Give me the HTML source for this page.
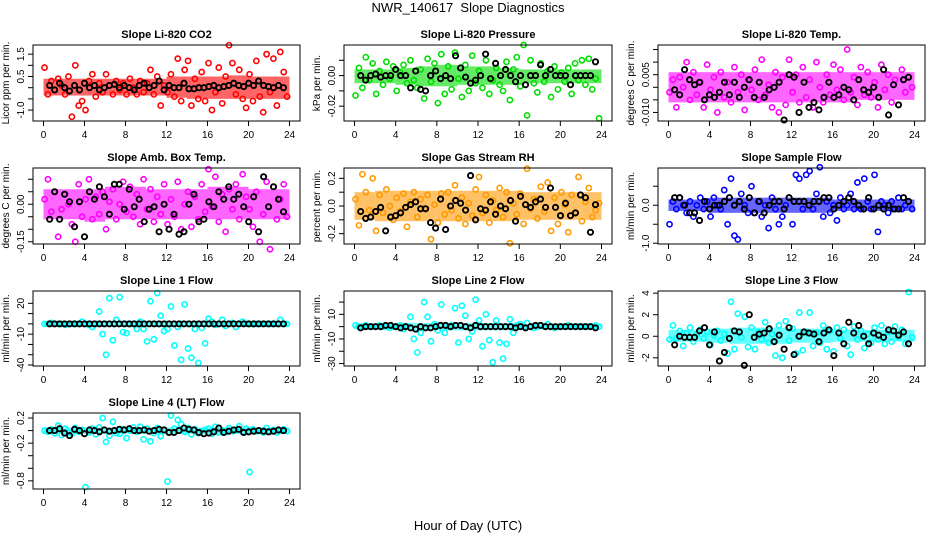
<!DOCTYPE html>
<html><head><meta charset="utf-8"><style>
html,body{margin:0;padding:0;background:#fff;}
svg{display:block;font-family:"Liberation Sans",Arial,sans-serif;}
</style></head><body>
<svg id="chart" width="936" height="540" viewBox="0 0 936 540" xmlns="http://www.w3.org/2000/svg">
<text x="468" y="12" text-anchor="middle" font-size="13" xml:space="preserve">NWR_140617  Slope Diagnostics</text>
<text x="468" y="530" text-anchor="middle" font-size="13">Hour of Day (UTC)</text>
<g id="panels"></g>
</svg>
<script>
// Data (scaled units per panel), x = hour of day spread evenly over 0..24
const p1Color=[9,-3,3,-1,4,1,-3,5,-13,10,-8,-6,-10,3,6,-4,2,-2,6,1,-3,3,-1,2,-3,4,0,-3,3,-2,2,8,-3,5,-8,1,-2,6,-4,13,-6,8,12,-8,4,-5,7,-6,11,-10,-2,9,-7,5,19,11,-3,8,-5,-9,6,-6,12,-4,-11,15,-2,13,-8,16,7,-4];
const p1Black=[1,-1,2,0,-1.5,1,-1,2,0,1,-1,0,1,1.5,0,1,0,-1,1,2,0,1,3,-1,1,0,0,2,-0.5,-0.5,0,0,0.5,1,0,0.5,1,2,1,0.5,2,1,3,1,0.5,0,1,0];
const p1BandLo=[-3.5,-3.5,-3.5,-3.5,-3.5,-3.5,-4.5,-5,-5,-5,-5,-5];
const p1BandHi=[4,4,4,4,4,4,5,5,5,5.5,5,5];
const p2Color=[-13,5,-8,12,-3,8,-12,3,-6,9,-2,6,-10,2,7,-5,10,-3,-8,4,-15,11,-4,8,-18,14,-12,6,-9,15,-2,-14,7,-10,13,-5,3,-8,10,-12,-3,5,-6,-10,9,-16,4,12,-7,20,-26,10,-5,-11,8,-4,3,-14,6,-9,2,-4,5,-12,8,-3,10,-6,11,-9,-2,-28];
const p2Black=[0,-3,0,1,-1,0,0,4,0,0,-8,3,-9,-10,0,3,-2,0,-2,13,5,-1,-5,-3,0,14,-2,8,0,4,0,-4,0,-6,0,0,7,0,4,0,0,0,-6,0,0,0,0,9];
const p2BandLo=[-5,-5,-6,-7,-7,-6,-6,-6,-5,-5,-5,-5];
const p2BandHi=[4,4,5,6,7,6,6,5,4,4,4,4];
const p3Color=[-2,3,-8,4,0,10,-5,6,-3,2,-8,9,-1,4,-10,6,-4,2,-6,8,-2,5,-9,3,-1,7,-5,11,-3,1,-8,6,-10,4,-7,11,-2,5,-6,8,-4,3,-8,10,0,-6,5,-3,9,-1,7,-5,15,-2,4,-7,8,-3,6,-4,2,-8,9,-1,5,-6,3,-7,7,-2,4,0];
const p3Black=[-1,-3,7,3,1,2,-5,-3,-4,-2,2,-3,2,-4,0,3,-4,2,-4,-1,0,2,-13,5,4,-10,2,-8,-6,-9,-4,2,-4,-3,0,-1,-5,3,-1,-2,0,-4,7,-11,1,-7,3,4];
const p3BandLo=[-6,-6,-6,-6,-6,-6,-6,-6,-6,-5,-5,-5];
const p3BandHi=[6,6,6,6,6,6,6,6,6,6,6,6];
const p4Color=[2,10,-3,5,-13,-2,4,0,-8,-15,8,-5,2,10,-6,3,-4,5,-10,1,6,-6,0,9,-3,7,-5,4,-8,10,-2,6,-7,3,-4,8,-8,2,-5,9,-10,0,5,-9,3,-6,8,-3,14,-1,11,-7,4,-11,6,-2,8,-6,12,3,-2,-9,5,-15,-4,9,-18,7,-6,2,8,-5];
const p4Black=[-6,5,-6,4,1,-9,1,-13,5,2,7,3,-4,8,8,-2,6,-1,2,-7,-2,-1,-11,0,-10,-4,-12,-11,0,4,-7,-6,1,-1,5,2,7,2,4,-1,-7,3,-11,11,-1,7,2,-3];
const p4BandLo=[-6,-6,-7,-6,-6,-6,-6,-6,-6,-6,-6,-6];
const p4BandHi=[6,6,6,7,7,6,6,6,7,7,6,6];
const p5Color=[5,-14,23,10,-3,20,-18,8,-5,12,0,-10,6,-4,9,-15,3,10,-8,5,-2,8,-24,1,-12,9,-6,10,-3,15,-9,6,-13,2,-7,12,21,-5,8,-12,4,-3,13,-8,10,-27,2,-6,9,-13,27,-2,5,-9,14,-4,17,-18,6,-13,10,1,-19,8,-5,21,-11,3,13,-8,-3,2];
const p5Black=[-4,-9,-8,-4,-1,-18,-8,-7,-5,-1,1,3,-2,-2,-12,-16,5,-17,0,4,2,-3,22,-10,-2,-3,3,-6,0,-2,4,-11,7,1,-1,3,5,-1,13,-1,-7,2,-7,-5,8,6,-19,1];
const p5BandLo=[-10,-11,-11,-11,-11,-11,-11,-11,-10,-10,-10,-10];
const p5BandHi=[10,11,11,11,11,11,11,11,10,10,10,10];
const p6Color=[-5,1,-1,2,0,-2,1,-3,0,2,-1,1,-3,2,0,-1,4,-5,7,-8,-9,3,0,-2,5,-2,1,-3,0,-6,2,-1,-5,-3,0,2,-5,8,7,-1,8,9,-1,3,10,-3,1,-2,0,-4,2,-1,0,3,-1,6,-1,7,1,-1,8,-7,1,0,-2,1,-1,2,-1,0,1,-1];
const p6Black=[2,2,0,-2,-2,-4,1,-1,0,0,1,2,0,1,-1,2,-2,1,-2,0,1,1,-1,2,1,1,1,0,1,1,2,2,-1,0,1,2,1,0,-1,2,-1,0,-1,0,-1,-1,2,1];
const p6BandLo=[-1.5,-1.5,-2,-2,-2,-2,-2,-2,-1.5,-1.5,-1.5,-1.5];
const p6BandHi=[1.5,1.5,2,2,2,2,2,2,1.5,1.5,1.5,1.5];
const p7Color=[0,0,1,0,0,0,-1,0,0,0,0,2,0,-1,-3,0,12,-10,-30,25,-16,4,26,-8,-9,0,0,-5,2,-5,-17,22,-15,30,8,-7,-5,17,-21,-3,-35,19,-24,-33,-5,-38,-4,-19,5,2,-1,0,4,-2,0,1,-3,0,2,0,0,0,0,0,0,0,0,0,0,4,0,0];
const p7Black=[0,0,0,0,0,0,0,0,0,0,0,0,0,0,0,0,0,0,0,0,0,0,0,0,0,0,0,0,0,0,0,0,0,0,0,0,0,0,0,0,0,0,0,0,0,0,0,0];
const p7BandLo=[-2,-2,-3,-3,-3,-3,-3,-3,-2,-2,-2,-2];
const p7BandHi=[2,2,3,3,3,3,3,3,2,2,2,2];
const p8Color=[1,0,0,1,0,0,0,1,0,0,-1,0,0,1,-2,0,8,-10,-21,-5,20,8,-12,2,-3,18,-5,0,1,15,-13,17,9,-10,-4,22,5,-16,10,-11,-29,5,-13,-26,-14,6,-5,1,2,0,3,0,-1,0,1,0,2,0,-1,0,0,0,1,0,0,0,0,0,0,0,1,0];
const p8Black=[-1,0,0,0,0,1,1,0,-1,0,-1,-2,0,-1,-1,0,1,1,0,1,1,0,-1,1,0,0,0,0,0,0,0,-1,0,-1,0,1,1,0,0,0,0,0,0,0,0,0,0,-1];
const p8BandLo=[-2,-2,-3,-3,-3,-3,-3,-3,-2,-2,-2,-2];
const p8BandHi=[2,2,3,3,3,3,3,3,2,2,2,2];
const p9Color=[-3,10,-2,5,-9,3,8,-5,2,6,-2,4,-8,1,5,-4,2,-16,32,-12,21,-1,18,-10,8,-12,4,-3,13,-6,2,-18,10,-20,14,-4,7,-16,22,-13,4,22,-9,3,-6,10,-12,5,-14,8,-2,6,-9,-17,9,-3,5,-11,2,-6,8,-3,10,-7,4,-5,9,-1,6,-7,41,-1];
const p9Black=[-8,0,-1,-1,-1,5,8,-8,4,-23,-15,-2,5,4,-27,20,-1,2,3,7,-5,1,-12,8,-17,0,4,3,2,-5,3,6,-18,3,-7,13,3,10,0,-7,3,1,-1,6,5,1,4,-7];
const p9BandLo=[-5,-5,-6,-7,-7,-7,-6,-6,-5,-5,-5,-5];
const p9BandHi=[6,6,7,8,8,8,7,7,6,6,6,6];
const p10Color=[0,-2,2,-4,8,-7,3,-3,-5,4,-2,1,-90,-3,3,-6,5,20,-18,-8,14,-4,-5,2,-12,0,5,-2,6,-14,3,-17,-4,4,-9,1,-81,24,3,17,10,-2,4,-6,2,-4,-1,1,3,-5,6,-3,0,-2,4,-1,0,7,-2,3,-66,2,-1,0,-3,4,-2,1,-3,0,2,-1];
const p10Black=[0,0,3,-4,-8,2,0,-5,1,0,-2,1,-1,0,2,1,3,0,0,1,-1,0,2,1,-3,-3,0,4,2,1,-3,-5,-4,-2,4,-3,-1,1,2,-3,-2,-1,0,-1,-2,-1,1,0];
const p10BandLo=[-5,-5,-5,-5,-5,-5,-5,-5,-5,-5,-5,-5];
const p10BandHi=[5,5,5,5,5,5,5,5,5,5,5,5];
const xTicks=[0,4,8,12,16,20,24];
const xTickLabels=['0','4','8','12','16','20','24'];
const p1Ticks=[15,10,5,0,-5,-10], p1TickLabels=['1.5','','0.5','','','-1.0'];
const p2Ticks=[10,0,-10,-20], p2TickLabels=['','0.00','','-0.02'];
const p3Ticks=[15,10,5,0,-5,-10], p3TickLabels=['','','0.005','','','-0.010'];
const p4Ticks=[10,5,0,-5,-10,-15], p4TickLabels=['','','0.00','','','-0.15'];
const p5Ticks=[20,10,0,-10,-20], p5TickLabels=['0.2','','0.0','','-0.2'];
const p6Ticks=[5,0,-5,-10], p6TickLabels=['','0.0','','-1.0'];
const p7Ticks=[20,10,0,-10,-20,-30,-40], p7TickLabels=['20','','','-10','','','-40'];
const p8Ticks=[20,10,0,-10,-20,-30], p8TickLabels=['','10','','-10','','-30'];
const p9Ticks=[40,20,0,-20], p9TickLabels=['4','2','0','-2'];
const p10Ticks=[20,0,-20,-40,-60,-80], p10TickLabels=['0.2','','-0.2','','','-0.8'];

const cols=[{l:33,r:300},{l:344,r:612},{l:658,r:925}];
const rows=[{t:45,b:121},{t:168,b:244},{t:291,b:366},{t:413,b:489}];
const panels=[
 {key:'co2',title:'Slope Li-820 CO2',ylab:'Licor ppm per min.',c:0,r:0,dom:[19.1,-14.9],color:'#ff0000',col:p1Color,blk:p1Black,lo:p1BandLo,hi:p1BandHi,ticks:p1Ticks,tl:p1TickLabels},
 {key:'pressure',title:'Slope Li-820 Pressure',ylab:'kPa per min.',c:1,r:0,dom:[20,-29.7],color:'#00dd00',col:p2Color,blk:p2Black,lo:p2BandLo,hi:p2BandHi,ticks:p2Ticks,tl:p2TickLabels},
 {key:'temp',title:'Slope Li-820 Temp.',ylab:'degrees C per min.',c:2,r:0,dom:[16.8,-13.4],color:'#ff00ff',col:p3Color,blk:p3Black,lo:p3BandLo,hi:p3BandHi,ticks:p3Ticks,tl:p3TickLabels},
 {key:'amb-temp',title:'Slope Amb. Box Temp.',ylab:'degrees C per min.',c:0,r:1,dom:[14.5,-15.9],color:'#ff00ff',col:p4Color,blk:p4Black,lo:p4BandLo,hi:p4BandHi,ticks:p4Ticks,tl:p4TickLabels},
 {key:'rh',title:'Slope Gas Stream RH',ylab:'percent per min.',c:1,r:1,dom:[27.5,-27.5],color:'#ff9900',col:p5Color,blk:p5Black,lo:p5BandLo,hi:p5BandHi,ticks:p5Ticks,tl:p5TickLabels},
 {key:'sample-flow',title:'Slope Sample Flow',ylab:'ml/min per min.',c:2,r:1,dom:[9.8,-10.2],color:'#0000ff',col:p6Color,blk:p6Black,lo:p6BandLo,hi:p6BandHi,ticks:p6Ticks,tl:p6TickLabels},
 {key:'line1',title:'Slope Line 1 Flow',ylab:'ml/min per min.',c:0,r:2,dom:[32,-41],color:'#00ffff',col:p7Color,blk:p7Black,lo:p7BandLo,hi:p7BandHi,ticks:p7Ticks,tl:p7TickLabels},
 {key:'line2',title:'Slope Line 2 Flow',ylab:'ml/min per min.',c:1,r:2,dom:[29,-32],color:'#00ffff',col:p8Color,blk:p8Black,lo:p8BandLo,hi:p8BandHi,ticks:p8Ticks,tl:p8TickLabels},
 {key:'line3',title:'Slope Line 3 Flow',ylab:'ml/min per min.',c:2,r:2,dom:[42,-27.6],color:'#00ffff',col:p9Color,blk:p9Black,lo:p9BandLo,hi:p9BandHi,ticks:p9Ticks,tl:p9TickLabels},
 {key:'line4',title:'Slope Line 4 (LT) Flow',ylab:'ml/min per min.',c:0,r:3,dom:[28,-93],color:'#00ffff',col:p10Color,blk:p10Black,lo:p10BandLo,hi:p10BandHi,ticks:p10Ticks,tl:p10TickLabels}
];
const NS='http://www.w3.org/2000/svg';
function mk(tag,attrs,parent){const e=document.createElementNS(NS,tag);for(const k in attrs)e.setAttribute(k,attrs[k]);parent.appendChild(e);return e;}
const root=document.getElementById('panels');
panels.forEach(p=>{
 const C=cols[p.c],R=rows[p.r];
 const x0=C.l+10.5,x1=C.r-10.5;
 const X=h=>x0+(x1-x0)*h/24;
 const Y=v=>R.t+(p.dom[0]-v)/(p.dom[0]-p.dom[1])*(R.b-R.t);
 const g=mk('g',{},root);
 
 
 const t=mk('text',{x:(C.l+C.r)/2,y:R.t-7,'text-anchor':'middle','font-size':'11','font-weight':'bold'},g);
 t.textContent=p.title;
 
 
 const yl=mk('text',{transform:`translate(${C.l-24},${(R.t+R.b)/2}) rotate(-90)`,'text-anchor':'middle','font-size':'10'},g);
 yl.textContent=p.ylab;
 
 
 const bg=mk('g',{opacity:'0.6'},g);
 
 
 const nb=p.lo.length;
 p.lo.forEach((lo,i)=>{
  const ya=Y(p.hi[i]),yb=Y(lo);
  const rc=mk('rect',{x:X(i*24/nb),y:ya,width:X((i+1)*24/nb)-X(i*24/nb),height:yb-ya,fill:p.color},bg);
  
  
 });
 const cg=mk('g',{fill:'none',stroke:p.color,'stroke-width':'1.6'},g);
 
 
 p.col.forEach((v,i)=>{
  const c=mk('circle',{cx:X(i*24/p.col.length+0.1),cy:Y(v),r:2.6},cg);
  
  
 });
 const kg=mk('g',{fill:'none',stroke:'#000','stroke-width':'1.9'},g);
 
 
 p.blk.forEach((v,i)=>{
  const c=mk('circle',{cx:X(0.6+i*23.3/p.blk.length),cy:Y(v),r:2.6},kg);
  
  
 });
 const box=mk('rect',{x:C.l,y:R.t,width:C.r-C.l,height:R.b-R.t,fill:'none',stroke:'#000','stroke-width':'1'},g);
 
 
 const xa=mk('g',{stroke:'#000','stroke-width':'1'},g);
 
 
 mk('line',{x1:X(0),x2:X(24),y1:R.b,y2:R.b},xa);
 xTicks.forEach((h,i)=>{
  mk('line',{x1:X(h),x2:X(h),y1:R.b,y2:R.b+5},xa);
  const tx=mk('text',{x:X(h),y:R.b+17,'text-anchor':'middle','font-size':'10',stroke:'none',fill:'#000'},xa);
  tx.textContent=xTickLabels[i];
  
  
 });
 const ya=mk('g',{stroke:'#000','stroke-width':'1'},g);
 
 
 mk('line',{x1:C.l,x2:C.l,y1:Y(p.ticks[0]),y2:Y(p.ticks[p.ticks.length-1])},ya);
 p.ticks.forEach((v,i)=>{
  mk('line',{x1:C.l-5,x2:C.l,y1:Y(v),y2:Y(v)},ya);
  if(p.tl[i]){
   const ty=mk('text',{transform:`translate(${C.l-9},${Y(v)}) rotate(-90)`,'text-anchor':'middle','font-size':'10',stroke:'none',fill:'#000'},ya);
   ty.textContent=p.tl[i];
   
   
  }
 });
});
</script>
</body></html>
